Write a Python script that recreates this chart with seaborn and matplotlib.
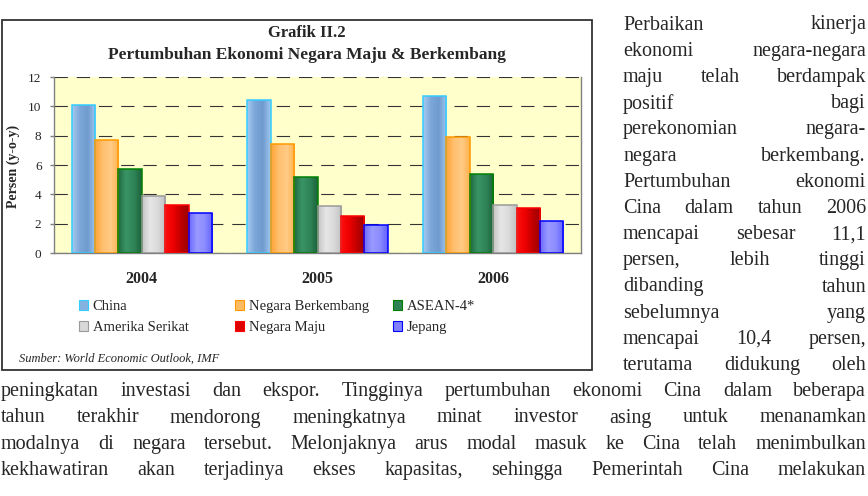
import numpy as np
import pandas as pd
import matplotlib
matplotlib.use("Agg")
import matplotlib.pyplot as plt
import seaborn as sns
from matplotlib.colors import LinearSegmentedColormap
from matplotlib.patches import Rectangle

# ---------------- data ----------------
years = ["2004", "2005", "2006"]
series = ["China", "Negara Berkembang", "ASEAN-4*", "Amerika Serikat", "Negara Maju", "Jepang"]
china = [10.1, 10.4, 10.7]
negara_berkembang = [7.7, 7.4, 7.9]
asean4 = [5.7, 5.2, 5.4]
amerika_serikat = [3.9, 3.2, 3.3]
negara_maju = [3.3, 2.5, 3.1]
jepang = [2.7, 1.9, 2.2]
y_ticks = [0, 2, 4, 6, 8, 10, 12]

title = "Grafik II.2"
subtitle = "Pertumbuhan Ekonomi Negara Maju & Berkembang"
ylabel = "Persen (y-o-y)"
source = "Sumber: World Economic Outlook, IMF"

side_lines = [
    "Perbaikan kinerja",
    "ekonomi negara-negara",
    "maju telah berdampak",
    "positif bagi",
    "perekonomian negara-",
    "negara berkembang.",
    "Pertumbuhan ekonomi",
    "Cina dalam tahun 2006",
    "mencapai sebesar 11,1",
    "persen, lebih tinggi",
    "dibanding tahun",
    "sebelumnya yang",
    "mencapai 10,4 persen,",
    "terutama didukung oleh",
]
full_lines = [
    "peningkatan investasi dan ekspor. Tingginya pertumbuhan ekonomi Cina dalam beberapa",
    "tahun terakhir mendorong meningkatnya minat investor asing untuk menanamkan",
    "modalnya di negara tersebut. Melonjaknya arus modal masuk ke Cina telah menimbulkan",
    "kekhawatiran akan terjadinya ekses kapasitas, sehingga Pemerintah Cina melakukan",
]

values = [china, negara_berkembang, asean4, amerika_serikat, negara_maju, jepang]
df = pd.DataFrame(
    [(y, s, v[i]) for s, v in zip(series, values) for i, y in enumerate(years)],
    columns=["Tahun", "Seri", "Nilai"],
)

# ---------------- styles ----------------
grad_stops = {
    "China": ["#A6CBF0", "#7AA6D8", "#6F9BCF", "#A2C8EE"],
    "Negara Berkembang": ["#FFA436", "#FFC070", "#FFCB85", "#FFB24E"],
    "ASEAN-4*": ["#1E6A3E", "#3A9466", "#2F8458", "#1B623A"],
    "Amerika Serikat": ["#C4C4C4", "#E6E6E6", "#DADADA", "#C0C0C0"],
    "Negara Maju": ["#FF1010", "#F00000", "#C00000", "#9A0000"],
    "Jepang": ["#6A6AFF", "#9A9AFF", "#8C8CFF", "#6060FF"],
}
mid_colors = {
    "China": "#86B2E0", "Negara Berkembang": "#FFBA62", "ASEAN-4*": "#2E8256",
    "Amerika Serikat": "#D8D8D8", "Negara Maju": "#DD0000", "Jepang": "#8080FF",
}
edge_colors = {
    "China": "#33CCFF", "Negara Berkembang": "#FF9900", "ASEAN-4*": "#008000",
    "Amerika Serikat": "#9A9A9A", "Negara Maju": "#FF0000", "Jepang": "#0000FF",
}

sns.set_style("white")
plt.rcParams["font.family"] = ["Liberation Serif", "DejaVu Serif"]

W, H = 868, 496
fig = plt.figure(figsize=(W / 100, H / 100), dpi=100)
fig.patch.set_facecolor("white")


def fx(x):
    return x / W


def fy(y):
    return 1 - y / H


# axes position in pixels
L, R, T, B = 54, 581, 77, 253
ax = fig.add_axes([fx(L), fy(B), (R - L) / W, (B - T) / H])
ax.set_facecolor("#FFFFCC")

sns.barplot(
    data=df, x="Tahun", y="Nilai", hue="Seri", order=years, hue_order=series,
    palette=mid_colors, saturation=1, width=0.8, ax=ax, legend=False,
)

# gradient fill for every bar
grad = np.linspace(0, 1, 128).reshape(1, -1)
for s, cont in zip(series, ax.containers):
    cmap = LinearSegmentedColormap.from_list(s, grad_stops[s])
    for p in cont.patches:
        x0, y0 = p.get_x(), p.get_y()
        w, h = p.get_width(), p.get_height()
        im = ax.imshow(grad, extent=(x0, x0 + w, y0, y0 + h), aspect="auto",
                       cmap=cmap, interpolation="bilinear", zorder=2)
        im.set_clip_path(p)
        p.set_facecolor("none")
        p.set_edgecolor(edge_colors[s])
        p.set_linewidth(1.1)
        p.set_zorder(3)

ax.set_xlim(-0.5, 2.5)
ax.set_ylim(0, 12)
ax.set_yticks(y_ticks)
ax.set_yticklabels([str(v) for v in y_ticks], fontsize=9.5)
ax.set_xticks([0, 1, 2])
ax.set_xticklabels(years, fontsize=11.5, fontweight="bold")
ax.set_xticks([-0.5, 0.5, 1.5, 2.5], minor=True)
ax.tick_params(axis="x", which="major", length=0, pad=13)
ax.tick_params(axis="x", which="minor", length=4, width=1, color="#808080", direction="out")
ax.tick_params(axis="y", length=3, width=1, color="#808080", pad=6, left=True)
ax.set_xlabel("")
ax.set_ylabel("")

ax.set_axisbelow(True)
ax.yaxis.grid(True, color="#333333", linewidth=0.8, linestyle=(0, (12, 8)))
ax.xaxis.grid(False)
for side in ["left", "bottom", "right"]:
    ax.spines[side].set_visible(True)
    ax.spines[side].set_color("#808080")
    ax.spines[side].set_linewidth(1.0)
ax.spines["top"].set_visible(False)

# titles and labels
fig.text(fx(307), fy(33), title, ha="center", va="center", fontsize=12, fontweight="bold")
fig.text(fx(307), fy(55), subtitle, ha="center", va="center", fontsize=12.5, fontweight="bold")
fig.text(fx(13), fy(166), ylabel, ha="center", va="center", rotation=90,
         fontsize=10, fontweight="bold")
fig.text(fx(19), fy(359), source, ha="left", va="center", fontsize=9, style="italic")

# legend (three columns)
cols = [(79, series[0], series[3]), (235, series[1], series[4]), (393, series[2], series[5])]
for i, (xc, s1, s2) in enumerate(cols):
    handles = [Rectangle((0, 0), 1, 1, facecolor=mid_colors[s], edgecolor=edge_colors[s], lw=0.8)
               for s in (s1, s2)]
    leg = ax.legend(handles, [s1, s2], loc="upper left",
                    bbox_to_anchor=(fx(xc), fy(300)), bbox_transform=fig.transFigure,
                    frameon=False, fontsize=10.5, handlelength=0.65, handleheight=0.65,
                    handletextpad=0.3, labelspacing=0.58, borderpad=0, borderaxespad=0)
    if i < 2:
        ax.add_artist(leg)

# chart border box
fig.add_artist(Rectangle((fx(2), fy(370)), (592 - 2) / W, (370 - 20) / H,
                         transform=fig.transFigure, fill=False, edgecolor="#333333", lw=1.3))

# body text, justified
renderer = fig.canvas.get_renderer()
BODY = 14.5


def justify(line, x0, x1, y):
    words = line.split()
    texts = [fig.text(0, fy(y), w, fontsize=BODY, ha="left", va="center") for w in words]
    widths = [t.get_window_extent(renderer).width for t in texts]
    gap = (x1 - x0 - sum(widths)) / max(len(words) - 1, 1)
    x = x0
    for t, w in zip(texts, widths):
        t.set_x(fx(x))
        x += w + gap


LS = 26.2
for i, line in enumerate(side_lines):
    justify(line, 623, 866, 25 + LS * i)
for j, line in enumerate(full_lines):
    justify(line, 1, 866, 25 + LS * (len(side_lines) + j))

fig.savefig("out.png", dpi=100)
